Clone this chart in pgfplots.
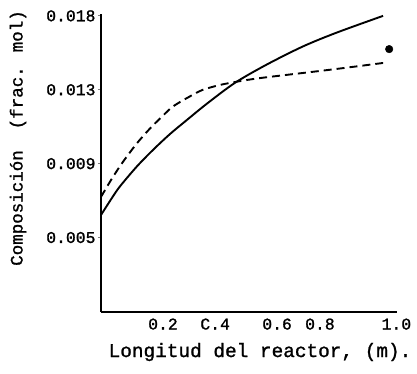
\documentclass[border=0pt]{standalone}
\usepackage{pgfplots}
\pgfplotsset{compat=1.18}
\usepackage{fontspec}
\setmainfont{Liberation Mono}[RawFeature={embolden=1.2}]
\begin{document}
\begin{tikzpicture}
\useasboundingbox (-101pt,-61pt) rectangle (316pt,312pt);
\begin{axis}[
  at={(0,0)}, anchor=south west,
  scale only axis, width=296pt, height=298pt,
  xmin=0, xmax=1.022, ymin=0.00097, ymax=0.0171,
  scaled y ticks=false, scaled x ticks=false,
  axis x line*=bottom, axis y line*=left,
  axis line style={line width=1.6pt, -},
  xtick={0.214,0.394,0.608,0.756,1.02},
  xticklabels={0.2,C.4,0.6,0.8,1.0},
  ytick={0.005,0.009,0.013,0.017},
  yticklabels={0.005,0.009,0.013,0.018},
  x tick style={draw=none},
  y tick style={line width=0.8pt},
  major tick length=3pt, tick align=outside,
  ticklabel style={font=\fontsize{16.4}{16.4}\selectfont},
  yticklabel style={xshift=1pt},
  /pgf/number format/assume math mode=true,
  clip=false,
]
\addplot[line width=1.9pt, smooth, tension=0.5] coordinates {
(0,0.00622) (0.038,0.00715) (0.066,0.00778) (0.124,0.00885) (0.180,0.00975)
(0.238,0.01060) (0.297,0.01137) (0.366,0.01225) (0.463,0.01338) (0.573,0.01437)
(0.698,0.01535) (0.815,0.01610) (0.974,0.01700)
};
\addplot[line width=1.9pt, smooth, tension=0.5, dash pattern=on 8pt off 5pt] coordinates {
(0,0.00720) (0.038,0.00820) (0.076,0.00910) (0.124,0.01010) (0.169,0.01090)
(0.214,0.01160) (0.249,0.01210) (0.308,0.01265) (0.352,0.01300) (0.411,0.01326)
(0.463,0.01342) (0.525,0.01358) (0.584,0.01370) (0.698,0.01391) (0.815,0.01413) (0.974,0.01445)
};
\addplot[only marks, mark=*, mark size=3.8pt] coordinates {(0.995,0.0152)};
\end{axis}
\node[rotate=90, font=\fontsize{17.5}{17.5}\selectfont] at (-83pt,174pt) {Composición\ \ (frac. mol)};
\node[font=\fontsize{19.4}{19.4}\selectfont] at (159pt,-40pt) {Longitud del reactor, (m).};
\end{tikzpicture}
\end{document}
